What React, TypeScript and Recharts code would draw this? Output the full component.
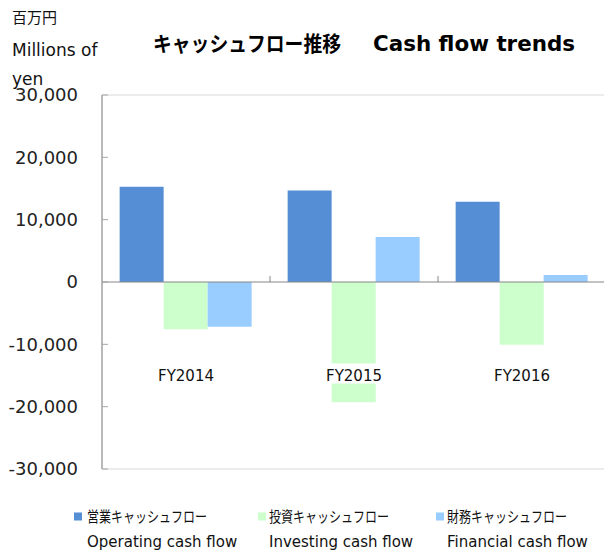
import {
    BarChart,
    Bar,
    XAxis,
    YAxis,
    Legend,
    ReferenceLine,
    ReferenceArea,
} from "recharts";

// values (million yen)
const years = ["FY2014", "FY2015", "FY2016"];
const operating = [15270, 14680, 12870];
const investing = [-7600, -19300, -10050];
const financial = [-7160, 7210, 1120];

const seriesKeys = ["operating", "investing", "financial"];
const seriesJa = ["営業キャッシュフロー", "投資キャッシュフロー", "財務キャッシュフロー"];
const seriesEn = ["Operating cash flow", "Investing cash flow", "Financial cash flow"];
const seriesColors = ["#558ed5", "#ccffcc", "#99ccff"];

const yTicks = [-30000, -20000, -10000, 0, 10000, 20000, 30000];

const data = years.map((year, i) => ({
    year,
    operating: operating[i],
    investing: investing[i],
    financial: financial[i],
}));

// layout
const CHART_W = 612;
const CHART_H = 554;
const MARGIN = { top: 95, right: 6, bottom: 55, left: 0 };
const X_AXIS_H = 30;
const Y_AXIS_W = 102;
const PLOT_H = CHART_H - MARGIN.top - MARGIN.bottom - X_AXIS_H;
const BAND = (CHART_W - MARGIN.left - MARGIN.right - Y_AXIS_W) / years.length;
const legendSquareX = [74, 258, 436];
const legendTextX = [87, 269, 447];

const latin = "DejaVu Sans";
const cjk = "Noto Sans CJK JP";
const axisGray = "#868686";

const fmt = (v: number) => v.toLocaleString("en-US");

const CategoryTick = (props: any) => {
    const { x, y, payload } = props;
    // axis sits at plot bottom; the zero line is mid-plot
    const zeroY = y - PLOT_H / 2;
    const labelY = zeroY + PLOT_H / 4;
    return (
        <g>
            <line x1={x + BAND / 2} x2={x + BAND / 2} y1={zeroY - 6} y2={zeroY} stroke={axisGray} />
            <rect x={x - 32} y={labelY - 12} width={64} height={20} fill="#fff" />
            <text x={x} y={labelY} dy="0.36em" textAnchor="middle" fontFamily={latin} fontSize={15} fill="#111">
                {payload.value}
            </text>
        </g>
    );
};

const LegendContent = (props: any) => {
    const payload = props.payload ?? [];
    return (
        <svg width={604} height={54}>
            {payload.map((entry: any, i: number) => (
                <g key={entry.value}>
                    <rect x={legendSquareX[i]} y={12.5} width={8} height={8} fill={entry.color} />
                    <text x={legendTextX[i]} y={16.5} dy="0.36em" fontFamily={cjk} fontSize={15} fill="#111"
                        textLength={120} lengthAdjust="spacingAndGlyphs">
                        {entry.value}
                    </text>
                    <text x={legendTextX[i]} y={41.5} dy="0.36em" fontFamily={latin} fontSize={15} fill="#111">
                        {seriesEn[i]}
                    </text>
                </g>
            ))}
        </svg>
    );
};

export default function App() {
    return (
        <div style={{ position: "fixed", left: 0, top: 0, width: 604, height: 554, overflow: "hidden", background: "#fff" }}>
            <BarChart width={CHART_W} height={CHART_H} data={data} margin={MARGIN} barCategoryGap="10.5%" barGap={0}>
                <ReferenceArea y1={-30000} y2={30000} fill="none" stroke="#d9d9d9" ifOverflow="visible" />
                {seriesKeys.map((key, i) => (
                    <Bar key={key} dataKey={key} name={seriesJa[i]} fill={seriesColors[i]} isAnimationActive={false} />
                ))}
                <ReferenceLine y={0} stroke={axisGray} />
                <YAxis
                    domain={[-30000, 30000]}
                    ticks={yTicks}
                    interval={0}
                    tickFormatter={fmt}
                    width={Y_AXIS_W}
                    tickSize={-6}
                    tickMargin={30}
                    axisLine={{ stroke: axisGray }}
                    tickLine={{ stroke: "#a6a6a6" }}
                    tick={{ fill: "#222", fontSize: 18, fontFamily: latin }}
                    allowDataOverflow
                />
                <XAxis
                    dataKey="year"
                    height={X_AXIS_H}
                    axisLine={false}
                    tickLine={false}
                    tickSize={0}
                    tickMargin={0}
                    interval={0}
                    tick={(p: any) => <CategoryTick {...p} />}
                />
                <Legend
                    layout="horizontal"
                    verticalAlign="middle"
                    align="center"
                    wrapperStyle={{ top: 500, left: 0, width: 604, height: 54 }}
                    content={(p: any) => <LegendContent {...p} />}
                />
            </BarChart>
            <svg width={604} height={110} style={{ position: "absolute", left: 0, top: 0, pointerEvents: "none" }}>
                <text x={12} y={18} dy="0.36em" fontFamily={cjk} fontSize={15} fill="#111">百万円</text>
                <text x={12} y={50} dy="0.36em" fontFamily={latin} fontSize={17} fill="#111">Millions of</text>
                <text x={12} y={79} dy="0.36em" fontFamily={latin} fontSize={17} fill="#111">yen</text>
                <text x={153} y={43} dy="0.36em" fontFamily={cjk} fontWeight="bold" fontSize={21} fill="#000"
                    textLength={188} lengthAdjust="spacingAndGlyphs">
                    キャッシュフロー推移
                </text>
                <text x={373} y={43} dy="0.36em" fontFamily={latin} fontWeight="bold" fontSize={21} fill="#000"
                    textLength={202} lengthAdjust="spacingAndGlyphs">
                    Cash flow trends
                </text>
            </svg>
        </div>
    );
}
